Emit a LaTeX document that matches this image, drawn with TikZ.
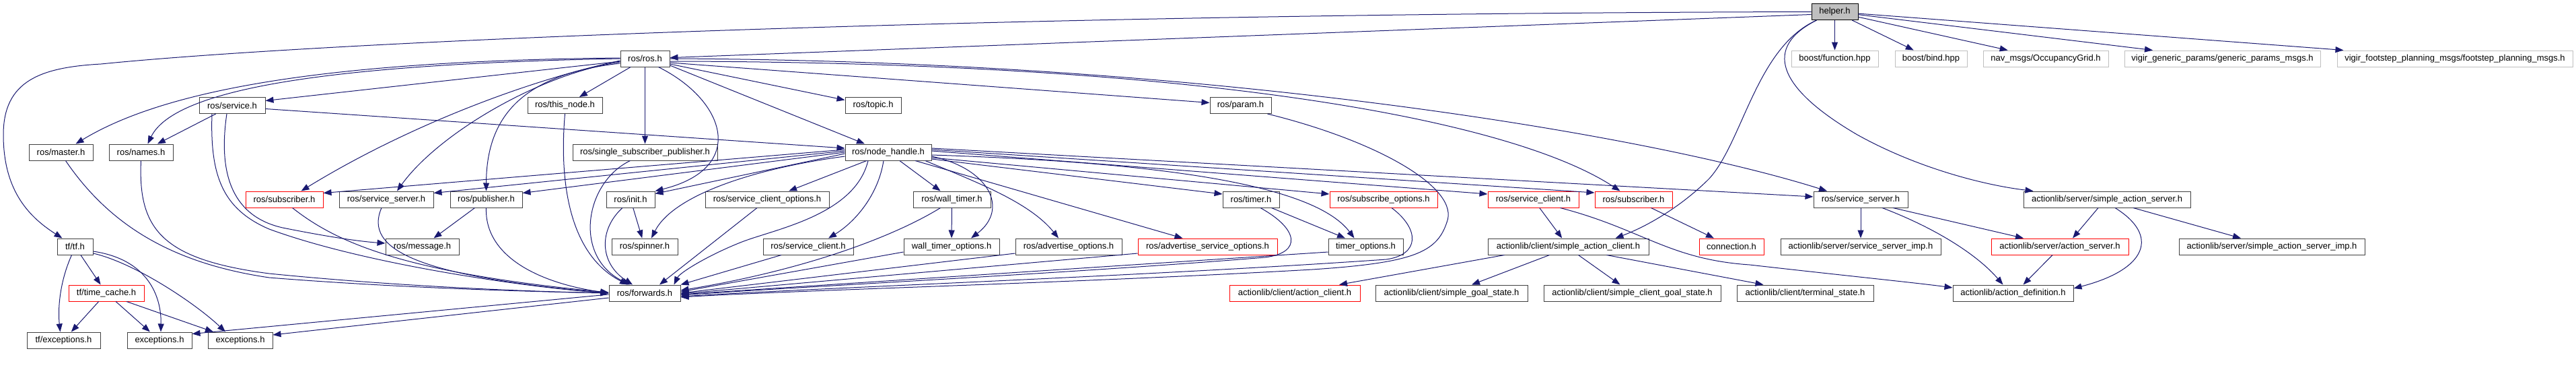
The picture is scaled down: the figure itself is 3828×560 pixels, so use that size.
\documentclass[tikz,border=0pt]{standalone}
\usepackage{fontspec}
\setmainfont{Liberation Sans}
\usetikzlibrary{arrows.meta}
\definecolor{edgec}{HTML}{191970}
\definecolor{greyl}{HTML}{BFBFBF}
\definecolor{boxc}{HTML}{404040}
\begin{document}
\begin{tikzpicture}[x=1pt,y=-1pt,
  nb/.style={draw=boxc, line width=1pt, fill=white, inner sep=0pt, minimum height=24pt, font=\fontsize{13}{15}\selectfont, text=black},
  rb/.style={nb, draw=red},
  gb/.style={nb, draw=greyl},
  dep/.style={draw=edgec, line width=1pt, -{Triangle[length=12pt,width=9pt]}}]
\useasboundingbox (0,0) rectangle (3828,560);
% row 0
\node[nb, fill=greyl, draw=black, minimum width=69pt] (helper) at (2726.5,17.5) {helper.h};
% row 1
\node[nb, minimum width=73pt] (ros) at (958.5,87) {ros/ros.h};
\node[gb, minimum width=129pt] (bfunc) at (2726.5,87) {boost/function.hpp};
\node[gb, minimum width=107pt] (bbind) at (2869.5,87) {boost/bind.hpp};
\node[gb, minimum width=186pt] (navmsgs) at (3040,87) {nav\_msgs/OccupancyGrid.h};
\node[gb, minimum width=291pt] (vgp) at (3302.5,87) {vigir\_generic\_params/generic\_params\_msgs.h};
\node[gb, minimum width=350pt] (vfp) at (3648,87) {vigir\_footstep\_planning\_msgs/footstep\_planning\_msgs.h};
% row 2
\node[nb, minimum width=98pt] (service) at (345,156.5) {ros/service.h};
\node[nb, minimum width=111pt] (thisnode) at (839.5,156.5) {ros/this\_node.h};
\node[nb, minimum width=83pt] (topic) at (1297.5,156.5) {ros/topic.h};
\node[nb, minimum width=91pt] (param) at (1843.5,156.5) {ros/param.h};
% row 3
\node[nb, minimum width=95pt] (master) at (90.5,226) {ros/master.h};
\node[nb, minimum width=95pt] (names) at (209.5,226) {ros/names.h};
\node[nb, minimum width=215pt] (ssp) at (958.5,226) {ros/single\_subscriber\_publisher.h};
\node[nb, minimum width=128pt] (nh) at (1320,226) {ros/node\_handle.h};
% row 4
\node[rb, minimum width=115pt] (subL) at (422.5,296) {ros/subscriber.h};
\node[nb, minimum width=140pt] (ssL) at (574,296) {ros/service\_server.h};
\node[nb, minimum width=107pt] (pub) at (722.5,296) {ros/publisher.h};
\node[nb, minimum width=72pt] (init) at (937,296) {ros/init.h};
\node[nb, minimum width=184pt] (sco) at (1140,296) {ros/service\_client\_options.h};
\node[nb, minimum width=115pt] (wt) at (1414.5,296) {ros/wall\_timer.h};
\node[nb, minimum width=84pt] (timer) at (1859,296) {ros/timer.h};
\node[rb, minimum width=160pt] (subopt) at (2056,296) {ros/subscribe\_options.h};
\node[rb, minimum width=135pt] (scR) at (2278.5,296) {ros/service\_client.h};
\node[rb, minimum width=115pt] (subR) at (2427.5,296) {ros/subscriber.h};
\node[nb, minimum width=140pt] (ssR) at (2765,296) {ros/service\_server.h};
\node[nb, minimum width=248pt] (sas) at (3131,296) {actionlib/server/simple\_action\_server.h};
% row 5
\node[nb, minimum width=53pt] (tf) at (111.5,366) {tf/tf.h};
\node[nb, minimum width=109pt] (msg) at (627.5,366) {ros/message.h};
\node[nb, minimum width=98pt] (spin) at (958,366) {ros/spinner.h};
\node[nb, minimum width=134pt] (scL) at (1201,366) {ros/service\_client.h};
\node[nb, minimum width=142pt] (wto) at (1414,366) {wall\_timer\_options.h};
\node[nb, minimum width=158pt] (advo) at (1588,366) {ros/advertise\_options.h};
\node[rb, minimum width=207pt] (adso) at (1794.5,366) {ros/advertise\_service\_options.h};
\node[nb, minimum width=111pt] (tmo) at (2029.5,366) {timer\_options.h};
\node[nb, minimum width=239pt] (sac) at (2330.5,366) {actionlib/client/simple\_action\_client.h};
\node[rb, minimum width=96pt] (conn) at (2573,366) {connection.h};
\node[nb, minimum width=238pt] (ssimp) at (2765,366) {actionlib/server/service\_server\_imp.h};
\node[rb, minimum width=204pt] (asrv) at (3061,366) {actionlib/server/action\_server.h};
\node[nb, minimum width=276pt] (sasimp) at (3376,366) {actionlib/server/simple\_action\_server\_imp.h};
% row 6
\node[rb, minimum width=112pt] (tc) at (158,435) {tf/time\_cache.h};
\node[nb, minimum width=106pt] (fwd) at (958,435) {ros/forwards.h};
\node[rb, minimum width=194pt] (ac) at (1924,435) {actionlib/client/action\_client.h};
\node[nb, minimum width=226pt] (sgs) at (2157,435) {actionlib/client/simple\_goal\_state.h};
\node[nb, minimum width=263pt] (scgs) at (2425.5,435) {actionlib/client/simple\_client\_goal\_state.h};
\node[nb, minimum width=203pt] (ts) at (2682.5,435) {actionlib/client/terminal\_state.h};
\node[nb, minimum width=179pt] (adef) at (2991.5,435) {actionlib/action\_definition.h};
% row 7
\node[nb, minimum width=109pt] (tfexc) at (94.5,505) {tf/exceptions.h};
\node[nb, minimum width=96pt] (exc1) at (237,505) {exceptions.h};
\node[nb, minimum width=96pt] (exc2) at (357,505) {exceptions.h};

% helper.h
\draw[dep] ([yshift=-4pt]helper.west) -- (ros);
\draw[dep] (helper.west) .. controls (1500,20) and (500,60) .. (150,95) .. controls (60,100) and (5,120) .. (5,200) .. controls (5,280) and (40,320) .. ([xshift=8pt]tf.north west);
\draw[dep] (helper) -- (bfunc);
\draw[dep] (helper) -- (bbind);
\draw[dep] (helper) -- (navmsgs);
\draw[dep] (helper) -- (vgp);
\draw[dep] (helper) -- (vfp);
\draw[dep] ([xshift=8pt]helper.south west) .. controls (2610,70) and (2590,210) .. (2540,265) .. controls (2500,305) and (2450,335) .. ([xshift=-50pt]sac.north east);
\draw[dep] ([xshift=8pt]helper.south west) .. controls (2620,70) and (2640,130) .. (2760,200) .. controls (2850,250) and (2950,275) .. ([xshift=15pt]sas.north west);

% ros/ros.h
\draw[dep] ([yshift=1pt]ros.west) .. controls (500,90) and (250,130) .. ([xshift=22pt]master.north);
\draw[dep] (ros.west) .. controls (500,95) and (260,130) .. ([xshift=10pt]names.north);
\draw[dep] (ros) -- ([yshift=7pt]service.east);
\draw[dep] (ros) -- (thisnode);
\draw[dep] (ros) -- (ssp);
\draw[dep] ([yshift=-8pt]ros.east) -- ([yshift=8pt]topic.west);
\draw[dep] ([yshift=-10pt]ros.east) -- ([xshift=-35pt]nh.north);
\draw[dep] ([yshift=-6pt]ros.east) -- ([yshift=4pt]param.west);
\draw[dep] ([yshift=-3pt]ros.west) .. controls (780,120) and (600,190) .. ([xshift=25pt]subL.north);
\draw[dep] ([yshift=-5pt]ros.west) .. controls (800,110) and (650,200) .. ([xshift=16pt]ssL.north);
\draw[dep] ([yshift=-7pt]ros.west) .. controls (780,110) and (723,170) .. (pub.north);
\draw[dep] ([xshift=20pt]ros.south) .. controls (1080,150) and (1110,250) .. (init.north east);
\draw[dep] ([yshift=-4pt]ros.east) .. controls (1800,92) and (2250,180) .. ([xshift=-20pt]subR.north);
\draw[dep] (ros.east) .. controls (1800,90) and (2450,200) .. ([xshift=-50pt]ssR.north);

% ros/service.h
\draw[dep] (service) -- (names);
\draw[dep] ([yshift=-5pt]service.east) -- ([yshift=6pt]nh.west);
\draw[dep] ([xshift=-8pt]service.south) .. controls (325,250) and (340,320) .. (420,338) .. controls (480,350) and (530,358) .. ([yshift=5pt]msg.west);
\draw[dep] ([xshift=-30pt]service.south) .. controls (312,260) and (330,310) .. (400,340) .. controls (550,395) and (800,428) .. (fwd.west);

% master, names
\draw[dep] ([xshift=7pt]master.south) .. controls (160,330) and (250,390) .. (400,412) .. controls (600,428) and (800,433) .. (fwd.west);
\draw[dep] (names.south) .. controls (205,340) and (240,385) .. (400,406) .. controls (600,426) and (800,433) .. (fwd.west);

% tf
\draw[dep] (tf) -- (tc);
\draw[dep] ([xshift=-5pt]tf.south) .. controls (88,420) and (86,460) .. ([xshift=-5pt]tfexc.north);
\draw[dep] ([yshift=-7pt]tf.east) .. controls (220,385) and (240,440) .. ([xshift=2pt]exc1.north);
\draw[dep] ([yshift=-10pt]tf.east) .. controls (200,390) and (290,450) .. ([xshift=-22pt]exc2.north);
\draw[dep] (tc) -- (tfexc);
\draw[dep] (tc) -- (exc1);
\draw[dep] ([xshift=30pt]tc.south) -- ([xshift=-40pt]exc2.north);

% forwards
\draw[dep] ([yshift=-2pt]fwd.west) -- ([yshift=-3pt]exc1.north east);
\draw[dep] ([yshift=-7pt]fwd.west) -- ([yshift=8pt]exc2.east);

% row 4 left
\draw[dep] ([xshift=12pt]subL.south) .. controls (500,360) and (600,405) .. ([yshift=1pt]fwd.west);
\draw[dep] ([xshift=-7pt]ssL.south) .. controls (540,370) and (620,410) .. (fwd.west);
\draw[dep] (pub) -- (msg);
\draw[dep] (pub.south) .. controls (720,380) and (800,420) .. (fwd.west);
\draw[dep] (thisnode.south) .. controls (830,280) and (850,380) .. ([xshift=-25pt]fwd.north);
\draw[dep] ([xshift=-22pt]ssp.south) .. controls (870,270) and (850,380) .. ([xshift=-22pt]fwd.north);
\draw[dep] ([xshift=-12pt]init.south) .. controls (890,340) and (890,390) .. ([xshift=-18pt]fwd.north);
\draw[dep] (init) -- (spin);

% node_handle
\draw[dep] ([yshift=-6pt]nh.west) .. controls (1120,250) and (1000,290) .. ([xshift=10pt]spin.north);
\draw[dep] ([yshift=4pt]nh.west) -- ([yshift=-3pt]subL.north east);
\draw[dep] ([yshift=2pt]nh.west) -- ([yshift=-3pt]ssL.north east);
\draw[dep] (nh.west) -- ([yshift=-3pt]pub.north east);
\draw[dep] ([yshift=-2pt]nh.west) -- ([yshift=-4pt]init.north east);
\draw[dep] (nh) -- (sco);
\draw[dep] ([xshift=-7pt]nh.south) .. controls (1305,290) and (1270,330) .. ([xshift=30pt]scL.north);
\draw[dep] ([xshift=-30pt]nh.south) .. controls (1270,320) and (1150,340) .. (1100,360) .. controls (1050,380) and (1010,405) .. ([xshift=-10pt]fwd.north east);
\draw[dep] ([xshift=-15pt]sco.south) -- ([xshift=22pt]fwd.north);
\draw[dep] ([xshift=-40pt]scL.south) -- (fwd.north east);
\draw[dep] (nh) -- (wt);
\draw[dep] ([yshift=-6pt]nh.east) .. controls (1470,250) and (1500,310) .. ([xshift=29pt]wto.north);
\draw[dep] (wt) -- (wto);
\draw[dep] ([xshift=-17pt]wt.south) .. controls (1330,350) and (1200,400) .. ([yshift=4pt]fwd.east);
\draw[dep] ([yshift=-8pt]wto.west) -- ([yshift=2pt]fwd.east);
\draw[dep] ([xshift=55pt]nh.south) .. controls (1450,270) and (1530,300) .. ([xshift=-15pt]advo.north);
\draw[dep] ([yshift=-10pt]advo.west) -- (fwd.east);
\draw[dep] ([xshift=40pt]nh.south) -- ([xshift=-37pt]adso.north);
\draw[dep] ([yshift=-10pt]adso.west) -- ([yshift=-1pt]fwd.east);
\draw[dep] ([yshift=-10pt]nh.east) -- ([yshift=8pt]timer.west);
\draw[dep] (timer) -- (tmo);
\draw[dep] ([xshift=14pt]timer.south) .. controls (1930,340) and (1935,375) .. (1880,382) .. controls (1600,405) and (1200,425) .. ([yshift=-3pt]fwd.east);
\draw[dep] ([yshift=-4pt]nh.east) .. controls (1700,240) and (1950,270) .. ([xshift=-17pt]tmo.north);
\draw[dep] ([yshift=-8pt]tmo.west) -- ([yshift=-2pt]fwd.east);
\draw[dep] ([yshift=-8pt]nh.east) -- ([yshift=8pt]subopt.west);
\draw[dep] ([xshift=12pt]subopt.south) .. controls (2110,340) and (2110,378) .. (2060,385) .. controls (1700,410) and (1200,428) .. ([yshift=-5pt]fwd.east);
\draw[dep] ([xshift=40pt]param.south) .. controls (2050,210) and (2170,280) .. (2150,330) .. controls (2135,375) and (2100,390) .. (1950,400) .. controls (1600,420) and (1200,430) .. ([yshift=-6pt]fwd.east);
\draw[dep] ([yshift=2pt]nh.east) -- ([yshift=8pt]scR.west);
\draw[dep] ([yshift=4pt]nh.east) -- ([yshift=10pt]subR.west);
\draw[dep] ([yshift=6pt]nh.east) -- ([yshift=4pt]ssR.west);

% actionlib client side
\draw[dep] (scR) -- (sac);
\draw[dep] ([xshift=40pt]scR.south) .. controls (2440,340) and (2480,385) .. (2600,393) .. controls (2750,410) and (2850,420) .. ([yshift=8pt]adef.west);
\draw[dep] ([xshift=-95pt]sac.south) -- ([xshift=66pt]ac.north);
\draw[dep] ([xshift=-28pt]sac.south) -- ([xshift=30pt]sgs.north);
\draw[dep] ([xshift=15pt]sac.south) -- ([xshift=-18pt]scgs.north);
\draw[dep] ([xshift=57pt]sac.south) -- ([xshift=-62pt]ts.north);
\draw[dep] (subR) -- (conn);

% actionlib server side
\draw[dep] (ssR) -- (ssimp);
\draw[dep] ([xshift=32pt]ssR.south) .. controls (2880,340) and (2940,380) .. ([xshift=-15pt]adef.north);
\draw[dep] ([xshift=48pt]ssR.south) -- ([xshift=-54pt]asrv.north);
\draw[dep] ([xshift=-13pt]sas.south) -- ([xshift=19pt]asrv.north);
\draw[dep] ([xshift=12pt]sas.south) .. controls (3210,350) and (3190,400) .. ([yshift=7pt]adef.east);
\draw[dep] ([xshift=39pt]sas.south) -- ([xshift=-46pt]sasimp.north);
\draw[dep] ([xshift=-11pt]asrv.south) -- ([xshift=15pt]adef.north);
\end{tikzpicture}
\end{document}
